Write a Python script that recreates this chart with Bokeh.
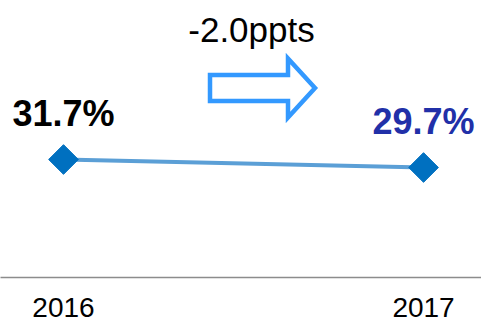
import math
from bokeh.plotting import figure
from bokeh.models import Range1d, FixedTicker, Label, ColumnDataSource
from bokeh.core.properties import value
from bokeh.embed import file_html
from bokeh.resources import INLINE

# ---- data ----
years = ["2016", "2017"]
shares = [31.7, 29.7]
share_labels = ["31.7%", "29.7%"]
label_colors = ["#000000", "#2130A8"]
change_text = "-2.0ppts"

FONT = "Liberation Sans"
W, H = 481, 325
FRAME_H = 277

x_idx = list(range(len(years)))
x_range = Range1d(-0.175, 1.161)
y_range = Range1d(2.2, 71.45)

p = figure(width=W, height=H, x_range=x_range, y_range=y_range,
           output_backend="svg", toolbar_location=None,
           min_border_left=0, min_border_right=0, min_border_top=0,
           min_border_bottom=H - FRAME_H, y_axis_location=None)
p.outline_line_color = None
p.xgrid.visible = False
p.ygrid.visible = False
p.background_fill_color = "white"
p.border_fill_color = "white"

# helpers to convert pixel layout positions into data coordinates
def px2x(px):
    return x_range.start + px / W * (x_range.end - x_range.start)

def py2y(py):
    return y_range.end - py / FRAME_H * (y_range.end - y_range.start)

src = ColumnDataSource(dict(x=x_idx, y=shares, lab=share_labels, col=label_colors))

p.line("x", "y", source=src, line_color="#5B9FD6", line_width=4)
p.scatter("x", "y", source=src, marker="square", size=21, angle=math.pi / 4,
          fill_color="#0070C0", line_color="#0070C0", line_width=1,
          line_join="round")
p.text("x", "y", text="lab", source=src, text_color="col",
       text_font=value(FONT), text_font_style="bold", text_font_size="36px",
       text_align="center", text_baseline="middle", y_offset=-46.5)

# hollow arrow
ax = [209.5, 287.5, 287.5, 314.5, 287.5, 287.5, 209.5]
ay = [74.5, 74.5, 58, 87.5, 117, 100.5, 100.5]
p.patch([px2x(v) for v in ax], [py2y(v) for v in ay],
        fill_color="white", line_color="#3399FF", line_width=4.5,
        line_join="miter")

p.add_layout(Label(x=px2x(251), y=py2y(28.5), text=change_text,
                   text_font=FONT, text_font_size="35px",
                   text_align="center", text_baseline="middle",
                   text_color="#000000"))

xa = p.xaxis[0]
xa.ticker = FixedTicker(ticks=x_idx)
xa.major_label_overrides = {i: y for i, y in zip(x_idx, years)}
xa.major_tick_out = 0
xa.major_tick_in = 0
xa.minor_tick_out = 0
xa.minor_tick_in = 0
xa.axis_line_color = "#8C8C8C"
xa.axis_line_width = 1.5
xa.major_label_text_font = FONT
xa.major_label_text_font_size = "28px"
xa.major_label_text_line_height = 0.8
xa.major_label_text_color = "#000000"
xa.major_label_standoff = 20

open("out.html", "w").write(file_html(p, INLINE))
